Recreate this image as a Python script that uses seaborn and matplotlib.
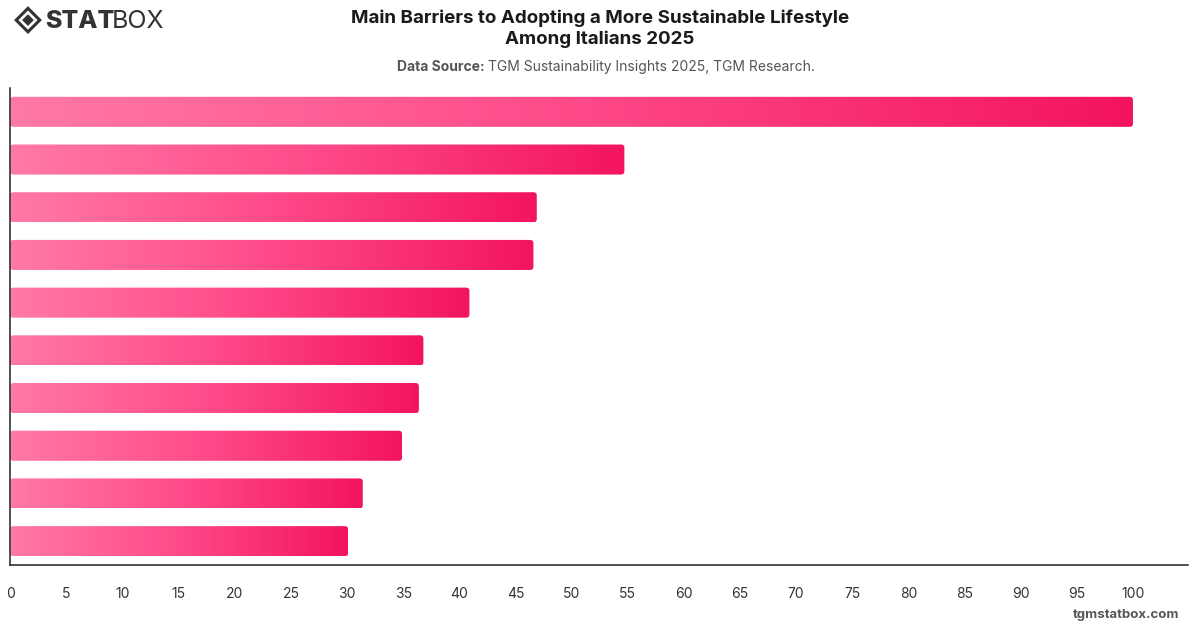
import numpy as np
import pandas as pd
import seaborn as sns
import matplotlib.pyplot as plt
from matplotlib.patches import FancyBboxPatch, Polygon
from matplotlib.colors import LinearSegmentedColormap

# values (labels are not shown on the original)
barriers = ["Barrier 1", "Barrier 2", "Barrier 3", "Barrier 4", "Barrier 5",
            "Barrier 6", "Barrier 7", "Barrier 8", "Barrier 9", "Barrier 10"]
shares = [100, 54.7, 46.9, 46.6, 40.9, 36.8, 36.4, 34.9, 31.4, 30.1]
x_ticks = list(range(0, 101, 5))

df = pd.DataFrame({"barrier": barriers, "share": shares})

sns.set_theme(style="white")
plt.rcParams["font.family"] = ["Inter", "DejaVu Sans"]

fig = plt.figure(figsize=(12, 6.28), dpi=100)
ax = fig.add_axes([0.0085, 0.1003, 0.9815, 0.7596])

sns.barplot(data=df, x="share", y="barrier", orient="h", color="#ff4a8a",
            width=0.63, ax=ax)

cmap = LinearSegmentedColormap.from_list("pinks", ["#ff79a8", "#ff4a8a", "#f3145f"])
grad = np.linspace(0, 1, 256).reshape(1, -1)
for bar in ax.patches:
    x0, y0 = bar.get_x(), bar.get_y()
    w, h = bar.get_width(), bar.get_height()
    bar.set_visible(False)
    clip = FancyBboxPatch((x0, y0), w, h,
                          boxstyle="round,pad=0,rounding_size=0.3",
                          mutation_aspect=0.23, transform=ax.transData,
                          facecolor="none", edgecolor="none")
    ax.add_patch(clip)
    im = ax.imshow(grad, cmap=cmap, aspect="auto", extent=(x0, x0 + w, y0 + h, y0),
                   interpolation="bicubic", zorder=2)
    im.set_clip_path(clip)

ax.set_xlim(0, 104.9)
ax.set_ylim(9.5, -0.5)
ax.set_xticks(x_ticks)
ax.set_xticklabels([str(t) for t in x_ticks], fontsize=10, color="#333333")
ax.tick_params(axis="x", length=0, pad=16)
ax.set_yticks([])
ax.set_xlabel("")
ax.set_ylabel("")
for side in ["top", "right"]:
    ax.spines[side].set_visible(False)
for side in ["left", "bottom"]:
    ax.spines[side].set_color("#222222")
    ax.spines[side].set_linewidth(1.1)

fig.text(0.5, 0.985, "Main Barriers to Adopting a More Sustainable Lifestyle\nAmong Italians 2025",
         ha="center", va="top", fontsize=13.5, fontweight="bold", color="#1a1a1a",
         linespacing=1.3)
fig.text(0.4035, 0.893, "Data Source:", ha="right", va="center", fontsize=10,
         fontweight="bold", color="#555555")
fig.text(0.4065, 0.893, "TGM Sustainability Insights 2025, TGM Research.",
         ha="left", va="center", fontsize=10, color="#555555")

# logo
lx, ly = 0.0233, 0.968
d = 0.0098
fig.patches.append(Polygon([[lx - d, ly], [lx, ly + d * 1.91], [lx + d, ly], [lx, ly - d * 1.91]],
                           closed=True, transform=fig.transFigure, facecolor="none",
                           edgecolor="#333333", linewidth=2.2))
fig.patches.append(Polygon([[lx - d * 0.5, ly], [lx, ly + d * 0.95], [lx + d * 0.5, ly], [lx, ly - d * 0.95]],
                           closed=True, transform=fig.transFigure, facecolor="#333333",
                           edgecolor="none"))
fig.text(0.0375, 0.966, "STAT", ha="left", va="center", fontsize=18, fontweight="heavy",
         color="#333333")
fig.text(0.0935, 0.966, "BOX", ha="left", va="center", fontsize=18, color="#333333")

fig.text(0.983, 0.02, "tgmstatbox.com", ha="right", va="center", fontsize=9.5,
         fontweight="bold", color="#555555")

plt.savefig("out.png", dpi=100)
plt.close()
